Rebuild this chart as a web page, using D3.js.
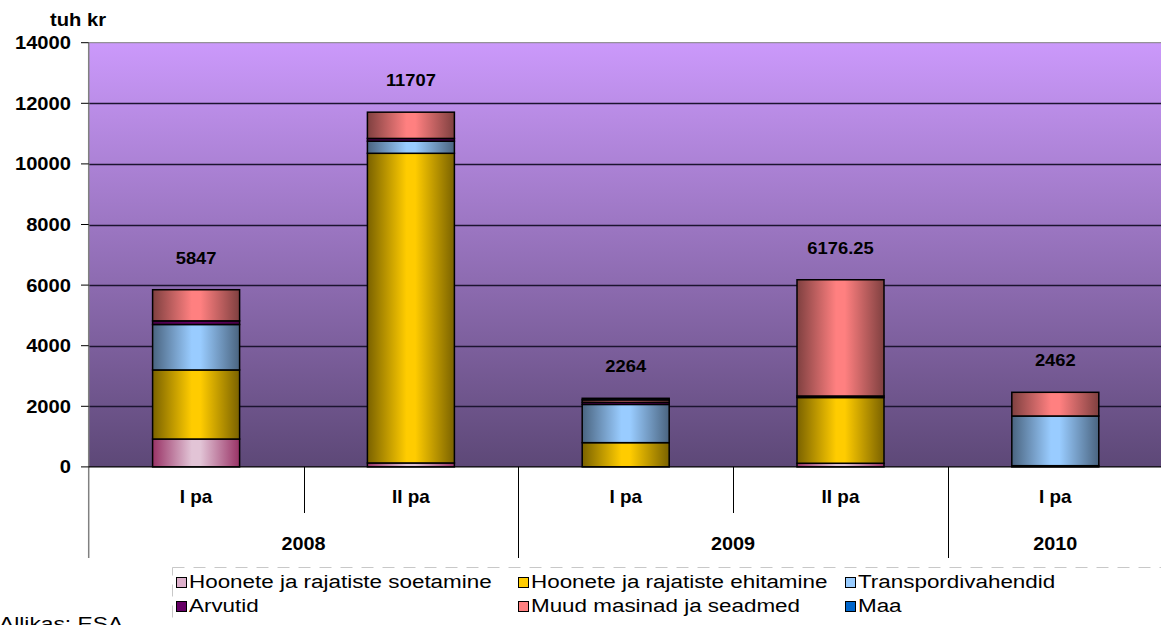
<!DOCTYPE html>
<html>
<head>
<meta charset="utf-8">
<script src="https://cdn.jsdelivr.net/npm/d3@7"></script>
<style>
  body { margin: 0; background: #fff; }
  svg { display: block; font-family: "Liberation Sans", Arial, sans-serif; }
</style>
</head>
<body>
<svg id="chart" width="1161" height="625"></svg>
<script>
//////////////// DATA ////////////////

var quarters = ["I pa", "II pa", "I pa", "II pa", "I pa"],
    years = ["2008", "2008", "2009", "2009", "2010"];

// series values, thousand kroons
var soetamine = [920, 130, 0, 120, 0],
    ehitamine = [2280, 10220, 800, 2170, 40],
    transport = [1500, 400, 1262, 0, 1640],
    arvutid = [120, 90, 70, 50, 0],
    muud = [1027, 867, 80, 3836.25, 782],
    maa = [0, 0, 52, 0, 0];

var totals = ["5847", "11707", "2264", "6176.25", "2462"];
var yTicks = [0, 2000, 4000, 6000, 8000, 10000, 12000, 14000];

var seriesNames = ["Hoonete ja rajatiste soetamine", "Hoonete ja rajatiste ehitamine",
    "Transpordivahendid", "Arvutid", "Muud masinad ja seadmed", "Maa"];

//////////////// STYLE ////////////////

// edge / centre colours for the cylinder-like shading
var seriesStyle = [
    {edge: "#993366", mid: "#E2C4D6", swatch: "#DDB0CB"},
    {edge: "#7A6200", mid: "#FFCC00", swatch: "#FFCC00"},
    {edge: "#4A6480", mid: "#99CCFF", swatch: "#99CCFF"},
    {edge: "#4A004A", mid: "#660066", swatch: "#660066"},
    {edge: "#7F4040", mid: "#FF8080", swatch: "#FF8080"},
    {edge: "#003366", mid: "#0066CC", swatch: "#0066CC"}
];

var plotTop = 42.7, plotBottom = 466.9, plotLeft = 88.7, bandW = 214.8;

var svg = d3.select("#chart");
var defs = svg.append("defs");

// background gradient
var bg = defs.append("linearGradient").attr("id", "bg")
    .attr("x1", 0).attr("x2", 0).attr("y1", 0).attr("y2", 1);
bg.append("stop").attr("offset", 0).attr("stop-color", "#CB99FB");
bg.append("stop").attr("offset", 1).attr("stop-color", "#5D4877");

seriesStyle.forEach(function(s, i) {
    var g = defs.append("linearGradient").attr("id", "g" + i)
        .attr("x1", 0).attr("x2", 1).attr("y1", 0).attr("y2", 0);
    g.append("stop").attr("offset", 0).attr("stop-color", s.edge);
    g.append("stop").attr("offset", 0.45).attr("stop-color", s.mid);
    g.append("stop").attr("offset", 0.55).attr("stop-color", s.mid);
    g.append("stop").attr("offset", 1).attr("stop-color", s.edge);
});

//////////////// SCALES ////////////////

var idx = d3.range(quarters.length);

var x = d3.scaleBand()
    .domain(idx)
    .range([plotLeft, plotLeft + bandW * idx.length])
    .padding(0);

var y = d3.scaleLinear()
    .domain([0, 14000])
    .range([plotBottom, plotTop]);

// stacked data
var rows = idx.map(function(i) {
    return {i: i, s0: soetamine[i], s1: ehitamine[i], s2: transport[i],
            s3: arvutid[i], s4: muud[i], s5: maa[i]};
});
var stack = d3.stack().keys(["s0", "s1", "s2", "s3", "s4", "s5"]);
var stacked = stack(rows);

// text helper with slight horizontal stretch like the source image
function stretchText(parent, tx, ty, str, size, weight, anchor, sx) {
    return parent.append("text")
        .attr("transform", "translate(" + tx + "," + ty + ") scale(" + sx + ",1)")
        .attr("text-anchor", anchor)
        .attr("font-size", size)
        .attr("font-weight", weight)
        .attr("fill", "#000")
        .text(str);
}

//////////////// PLOT AREA ////////////////

svg.append("rect")
    .attr("x", plotLeft).attr("y", plotTop)
    .attr("width", x.range()[1] - plotLeft)
    .attr("height", plotBottom - plotTop)
    .attr("fill", "url(#bg)");

// gridlines
svg.append("g").selectAll("line")
    .data(yTicks.filter(function(d) { return d > 0 && d < 14000; }))
    .enter().append("line")
    .attr("x1", plotLeft).attr("x2", x.range()[1])
    .attr("y1", function(d) { return Math.round(y(d)) + 0.5; })
    .attr("y2", function(d) { return Math.round(y(d)) + 0.5; })
    .attr("stroke", "#1c1430").attr("stroke-width", 1.3);

// top border
svg.append("line")
    .attr("x1", plotLeft).attr("x2", x.range()[1])
    .attr("y1", plotTop).attr("y2", plotTop)
    .attr("stroke", "#808080").attr("stroke-width", 1);

//////////////// BARS ////////////////

var barW = bandW * 0.405;

svg.append("g").selectAll("g")
    .data(stacked)
    .enter().append("g")
    .attr("fill", function(d, k) { return "url(#g" + k + ")"; })
    .selectAll("rect")
    .data(function(d) { return d.filter(function(p) { return p[1] - p[0] > 0; }); })
    .enter().append("rect")
    .attr("x", function(d) { return x(d.data.i) + (bandW - barW) / 2; })
    .attr("width", barW)
    .attr("y", function(d) { return y(d[1]); })
    .attr("height", function(d) { return y(d[0]) - y(d[1]); })
    .attr("stroke", "#000")
    .attr("stroke-width", 1.5);

// total labels
idx.forEach(function(i) {
    var top = d3.sum([soetamine[i], ehitamine[i], transport[i], arvutid[i], muud[i], maa[i]]);
    stretchText(svg, x(i) + bandW / 2, y(top) - 32 + 6, totals[i], 17, "bold", "middle", 1.08);
});

//////////////// AXES ////////////////

// value axis
var yAxis = svg.append("g");
yAxis.append("line")
    .attr("x1", plotLeft).attr("x2", plotLeft)
    .attr("y1", plotTop).attr("y2", 558)
    .attr("stroke", "#808080").attr("stroke-width", 1.5);
yTicks.forEach(function(t) {
    yAxis.append("line")
        .attr("x1", 81).attr("x2", plotLeft)
        .attr("y1", y(t)).attr("y2", y(t))
        .attr("stroke", "#000").attr("stroke-width", 1);
    stretchText(yAxis, 71, y(t) + 6.5, d3.format("d")(t), 18, "bold", "end", 1.12);
});
stretchText(svg, 50, 26, "tuh kr", 18, "bold", "start", 1.12);

// category axis line
svg.append("line")
    .attr("x1", plotLeft).attr("x2", x.range()[1])
    .attr("y1", plotBottom).attr("y2", plotBottom)
    .attr("stroke", "#000").attr("stroke-width", 1.3);

// dividers: short between quarters, long between years
idx.slice(1).forEach(function(i) {
    var bx = Math.round(x(i)) + 0.5;
    var long = years[i] !== years[i - 1];
    svg.append("line")
        .attr("x1", bx).attr("x2", bx)
        .attr("y1", plotBottom).attr("y2", long ? 558 : 513)
        .attr("stroke", "#000").attr("stroke-width", 1);
});

// quarter labels
idx.forEach(function(i) {
    stretchText(svg, x(i) + bandW / 2, 503, quarters[i], 18, "bold", "middle", 1.05);
});

// year labels, centred across their quarters
var yearGroups = d3.groups(idx, function(i) { return years[i]; });
yearGroups.forEach(function(g) {
    var first = g[1][0], last = g[1][g[1].length - 1];
    var cx = (x(first) + x(last) + bandW) / 2;
    stretchText(svg, cx, 550, g[0], 18, "bold", "middle", 1.1);
});

//////////////// LEGEND ////////////////

var legend = svg.append("g");
legend.append("rect")
    .attr("x", 172.5).attr("y", 567.5)
    .attr("width", 1100).attr("height", 80)
    .attr("fill", "none")
    .attr("stroke", "#c8c8c8")
    .attr("stroke-dasharray", "12,9");

var legCols = [176, 518, 845],
    legRows = [577, 601];

seriesNames.forEach(function(name, k) {
    var cx = legCols[k % 3], ry = legRows[Math.floor(k / 3)];
    legend.append("rect")
        .attr("x", cx + 0.5).attr("y", ry + 0.5)
        .attr("width", 10).attr("height", 10)
        .attr("fill", seriesStyle[k].swatch)
        .attr("stroke", "#000").attr("stroke-width", 1);
    stretchText(legend, cx + 13, ry + 10.5, name, 19, "normal", "start", 1.18);
});

// source note
stretchText(svg, -1, 630, "Allikas: ESA", 19, "normal", "start", 1.2);
</script>
</body>
</html>
